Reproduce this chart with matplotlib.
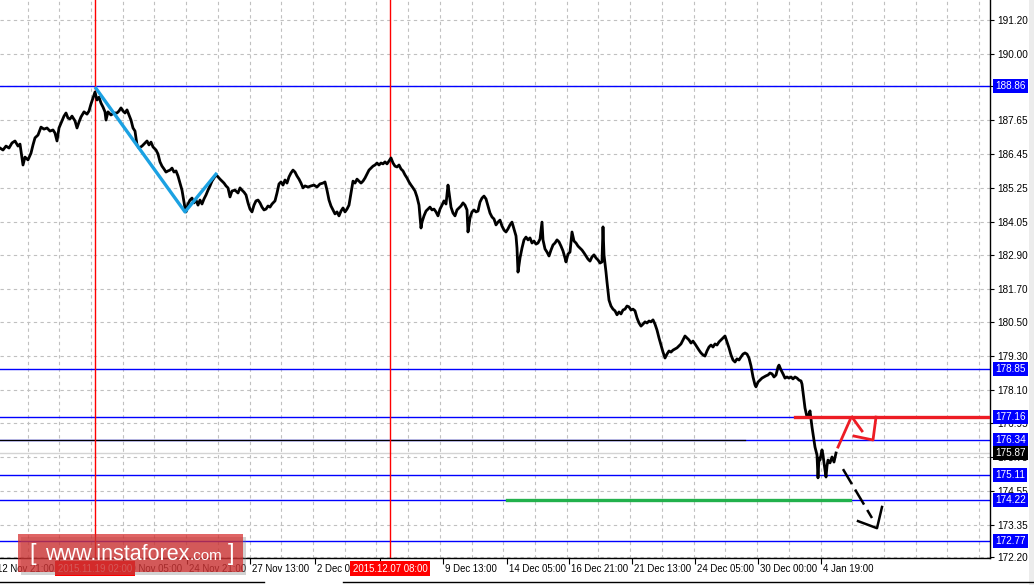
import matplotlib

matplotlib.use("Agg")

import matplotlib.pyplot as plt  # noqa: E402
import matplotlib.transforms as mtransforms  # noqa: E402
from matplotlib.lines import Line2D  # noqa: E402
from matplotlib.patches import Rectangle  # noqa: E402

plt.rcParams["font.family"] = ["Liberation Sans", "DejaVu Sans"]

# ---- data (H1 bars, index = bar number) ----
bars = [
    0, 3, 6, 9, 12, 15, 18, 20, 22, 23, 25, 28, 31, 33, 35, 38, 41, 44, 47, 50,
    53, 55, 57, 59, 62, 64, 66, 68, 70, 72, 75, 77, 79, 81, 84, 87, 89, 91, 93, 95,
    97, 99, 101, 103, 105, 106, 108, 111, 114, 117, 119, 121, 123, 125, 127, 129, 131, 133, 135, 137,
    139, 142, 145, 147, 149, 151, 153, 156, 158, 160, 162, 164, 166, 168, 170, 172, 174, 176, 178, 180,
    182, 183, 185, 186, 188, 190, 192, 194, 196, 198, 200, 202, 204, 206, 208, 210, 212, 214, 216, 218,
    220, 222, 224, 226, 228, 230, 232, 235, 238, 240, 242, 244, 246, 248, 250, 252, 254, 256, 258, 260,
    262, 264, 266, 268, 270, 272, 275, 277, 279, 281, 283, 285, 287, 289, 291, 293, 295, 297, 299, 301,
    303, 305, 308, 311, 314, 317, 320, 323, 325, 327, 329, 331, 333, 335, 337, 339, 341, 343, 345, 347,
    349, 351, 353, 355, 357, 359, 361, 363, 365, 367, 369, 371, 373, 375, 377, 379, 381, 383, 385, 387,
    389, 391, 393, 395, 397, 399, 401, 403, 405, 407, 409, 411, 413, 415, 417, 419, 421, 422, 424, 426,
    428, 430, 432, 434, 436, 438, 440, 442, 444, 446, 448, 449, 451, 453, 455, 457, 459, 461, 463, 465,
    467, 468, 470, 472, 474, 476, 478, 480, 482, 484, 486, 488, 490, 492, 494, 496, 498, 500, 502, 504,
    506, 508, 510, 512, 514, 516, 517, 518, 520, 522, 524, 526, 528, 530, 532, 534, 536, 538, 540, 542,
    543, 545, 547, 549, 551, 553, 555, 557, 559, 561, 563, 565, 566, 568, 570, 572, 574, 576, 578, 580,
    582, 584, 586, 588, 590, 592, 594, 596, 598, 600, 602, 603, 604, 606, 607, 609, 611, 613, 615, 617,
    619, 621, 623, 625, 627, 629, 631, 633, 635, 637, 639, 641, 643, 645, 647, 649, 651, 653, 655, 657,
    659, 661, 663, 665, 667, 669, 671, 673, 675, 677, 679, 681, 683, 685, 687, 689, 691, 693, 695, 697,
    699, 701, 703, 705, 707, 709, 711, 713, 715, 717, 719, 721, 723, 725, 727, 729, 731, 733, 735, 737,
    739, 741, 743, 745, 747, 749, 751, 753, 755, 756, 758, 760, 762, 764, 766, 768, 770, 772, 774, 776,
    778, 779, 781, 783, 785, 787, 789, 791, 793, 795, 797, 799, 801, 802, 804, 805, 807, 809, 810, 812,
    814, 815, 817, 818, 819, 820, 822, 823, 824, 826, 827, 828, 830, 832, 834, 836,
]
closes = [
    186.67, 186.60, 186.74, 186.67, 186.85, 186.92, 186.74, 186.81, 186.32, 186.07,
    186.35, 186.25, 186.49, 186.78, 187.03, 187.13, 187.41, 187.34, 187.38, 187.27,
    187.31, 187.20, 186.92, 187.38, 187.63, 187.80, 187.91, 187.73, 187.70, 187.80,
    187.63, 187.38, 187.59, 187.77, 187.95, 187.87, 187.98, 188.23, 188.44, 188.65,
    188.37, 188.47, 188.26, 188.12, 187.95, 187.66, 187.95, 187.84, 187.91, 187.91,
    187.98, 188.09, 187.98, 187.91, 188.02, 187.84, 187.66, 187.38, 187.27, 186.78,
    186.67, 186.74, 186.85, 186.92, 186.78, 186.88, 186.71, 186.60, 186.46, 186.18,
    186.03, 185.93, 185.82, 185.86, 185.89, 185.96, 185.82, 185.86, 185.68, 185.43,
    185.18, 184.97, 184.55, 184.41, 184.69, 184.83, 184.90, 184.73, 184.83, 184.65,
    184.83, 184.69, 184.87, 185.01, 185.18, 185.33, 185.50, 185.61, 185.72, 185.65,
    185.57, 185.50, 185.43, 185.33, 185.26, 184.94, 185.15, 185.18, 185.08, 185.26,
    185.18, 185.11, 185.01, 184.73, 184.51, 184.41, 184.65, 184.80, 184.83, 184.73,
    184.58, 184.48, 184.51, 184.62, 184.58, 184.69, 184.80, 185.08, 185.40, 185.47,
    185.36, 185.54, 185.43, 185.65, 185.79, 185.89, 185.82, 185.68, 185.57, 185.43,
    185.26, 185.33, 185.29, 185.33, 185.36, 185.29, 185.40, 185.43, 185.47, 185.18,
    184.83, 184.62, 184.48, 184.34, 184.41, 184.27, 184.44, 184.55, 184.41, 184.51,
    184.65, 185.08, 185.50, 185.43, 185.57, 185.50, 185.43, 185.50, 185.61, 185.75,
    185.89, 185.96, 186.03, 186.07, 186.14, 186.07, 186.14, 186.11, 186.18, 186.11,
    186.21, 186.32, 186.14, 186.03, 186.00, 186.07, 185.93, 185.86, 185.72, 185.61,
    185.47, 185.36, 185.26, 185.15, 184.94, 184.65, 183.84, 184.05, 184.27, 184.44,
    184.51, 184.58, 184.48, 184.51, 184.41, 184.27, 184.51, 184.65, 184.80, 184.69,
    185.36, 185.11, 184.58, 184.37, 184.27, 184.48, 184.55, 184.62, 184.73, 184.65,
    184.48, 183.70, 184.20, 184.41, 184.48, 184.41, 184.44, 184.76, 184.90, 184.97,
    184.87, 184.62, 184.37, 184.23, 184.16, 183.95, 184.05, 184.12, 183.91, 183.77,
    183.70, 183.81, 183.95, 184.05, 183.81, 183.56, 183.13, 182.28, 182.78, 183.13,
    183.42, 183.52, 183.42, 183.49, 183.31, 183.38, 183.27, 183.31, 183.45, 184.05,
    183.42, 183.10, 182.99, 182.85, 183.06, 183.24, 183.31, 183.42, 183.35, 183.20,
    183.03, 182.78, 182.64, 182.92, 182.99, 183.70, 183.38, 183.31, 183.20, 183.13,
    183.06, 182.96, 182.85, 182.74, 182.67, 182.82, 182.89, 182.78, 182.71, 182.60,
    182.64, 183.88, 182.89, 182.28, 181.93, 181.29, 181.08, 180.97, 180.91, 180.77,
    180.87, 180.80, 180.94, 180.97, 181.08, 181.05, 180.94, 180.97, 180.91, 180.66,
    180.48, 180.37, 180.44, 180.52, 180.48, 180.55, 180.52, 180.59, 180.44, 180.23,
    179.95, 179.70, 179.45, 179.24, 179.38, 179.49, 179.45, 179.52, 179.56, 179.60,
    179.67, 179.74, 179.88, 180.02, 179.95, 179.88, 179.77, 179.84, 179.74, 179.63,
    179.52, 179.42, 179.35, 179.31, 179.49, 179.63, 179.70, 179.63, 179.74, 179.70,
    179.81, 179.88, 179.95, 180.02, 179.81, 179.60, 179.35, 179.17, 179.10, 179.21,
    179.17, 179.28, 179.38, 179.42, 179.38, 179.24, 178.96, 178.57, 178.29, 178.22,
    178.39, 178.46, 178.53, 178.57, 178.61, 178.64, 178.71, 178.68, 178.57, 178.64,
    178.92, 178.99, 178.82, 178.68, 178.53, 178.57, 178.53, 178.57, 178.50, 178.57,
    178.53, 178.46, 178.43, 178.32, 177.76, 177.47, 177.15, 177.26, 177.37, 176.80,
    176.34, 176.09, 175.81, 175.00, 175.70, 175.63, 175.99, 175.81, 175.53, 175.03,
    175.42, 175.63, 175.53, 175.74, 175.56, 175.88,
]

price_ticks = [191.20, 190.00, 188.85, 187.65, 186.45, 185.25, 184.05, 182.90, 181.70,
               180.50, 179.30, 178.10, 176.95, 175.75, 174.55, 173.35, 172.20]
time_label_bars = [-5, 59, 123, 187, 250, 315, 380, 443, 507, 569, 632, 695, 758, 821]
# labels at 59 and 380 sit fully under the red marker boxes, so they stay blank
time_labels = ["12 Nov 21:00", "", "19 Nov 05:00", "24 Nov 21:00", "27 Nov 13:00",
               "2 Dec 05:00", "", "9 Dec 13:00", "14 Dec 05:00", "16 Dec 21:00",
               "21 Dec 13:00", "24 Dec 05:00", "30 Dec 00:00", "4 Jan 19:00"]

levels = [188.86, 178.85, 177.16, 176.34, 175.11, 174.22, 172.77]
last_price = 175.87
marker_bars = [95, 390]
marker_labels = ["2015.11.19 02:00", "2015.12.07 08:00"]

# hand-drawn analysis marks
wave_bars, wave_prices = [95, 185, 217], [188.83, 184.41, 185.79]
resist_price, resist_start = 177.16, 795
target_price, target_span = 174.22, (507, 850)
red_up_bars, red_up_prices = [838, 850], [176.09, 177.05]
red_head1_bars, red_head1_prices = [852, 862], [177.15, 176.66]
red_head2_bars, red_head2_prices = [854, 873, 876], [176.48, 176.34, 177.15]
black_down_bars, black_down_prices = [843, 872], [175.31, 173.58]
black_head_bars, black_head_prices = [858, 877, 882], [173.47, 173.22, 173.97]

# ---- layout (pixels) ----
W, H = 1034, 585
PLOT_W, PLOT_H = 990, 558
Y_TOP, Y_BOT = 191.908, 172.165
FS = 6.9

fig = plt.figure(figsize=(W / 100, H / 100), dpi=100)
fig.patch.set_facecolor("white")
ax = fig.add_axes([0, (H - PLOT_H) / H, PLOT_W / W, PLOT_H / H])
ax.set_xlim(0, PLOT_W)
ax.set_ylim(Y_BOT, Y_TOP)
for side in ("top", "left"):
    ax.spines[side].set_visible(False)
for side in ("right", "bottom"):
    ax.spines[side].set_linewidth(1.0)

grid_style = dict(color="#c0c0c0", lw=0.8, ls=(0, (3, 3)), zorder=0.5)
k = 0
while 27.5 + 31.72 * k < PLOT_W:
    ax.axvline(27.5 + 31.72 * k, **grid_style)
    k += 1
for p in price_ticks:
    ax.axhline(p, **grid_style)

ax.yaxis.tick_right()
ax.set_yticks(price_ticks, [f"{p:.2f}" for p in price_ticks])
ax.tick_params(axis="y", direction="out", length=3, pad=2, labelsize=7.2)
ax.set_xticks([b for b in time_label_bars if b >= 0], [])
ax.tick_params(axis="x", direction="out", length=4)

xdata_yaxes = mtransforms.blended_transform_factory(ax.transData, ax.transAxes)
xaxes_ydata = mtransforms.blended_transform_factory(ax.transAxes, ax.transData)

for b, lab in zip(time_label_bars, time_labels):
    if lab:
        ax.text(b + 2, -0.01, lab, transform=xdata_yaxes, ha="left", va="top",
                fontsize=FS, clip_on=False)

# level lines
for lvl in levels:
    ax.axhline(lvl, color="#0000ff", lw=1.0, zorder=1)
ax.plot([0, 745], [176.34, 176.34], color="black", lw=0.9, zorder=1.1)
ax.axhline(last_price, color="#d4d4d4", lw=1.0, zorder=1)
for b in marker_bars:
    ax.axvline(b, color="#ff0000", lw=1.0, zorder=1.2)

# price series
ax.plot(bars, closes, color="black", lw=2.0, zorder=3)

# analysis drawings
ax.plot(wave_bars, wave_prices, color="#1ba1e2", lw=2.4, zorder=4, solid_capstyle="butt")
ax.plot([resist_start, PLOT_W], [resist_price] * 2, color="#ed1c24", lw=2.4, zorder=4)
ax.plot(target_span, [target_price] * 2, color="#22b14c", lw=2.4, zorder=4)
for xs, ys in ((red_up_bars, red_up_prices), (red_head1_bars, red_head1_prices),
               (red_head2_bars, red_head2_prices)):
    ax.plot(xs, ys, color="#ed1c24", lw=2.0, zorder=4)
ax.plot(black_down_bars, black_down_prices, color="black", lw=1.8, ls=(0, (7, 2.5)), zorder=4)
ax.plot(black_head_bars, black_head_prices, color="black", lw=1.8, zorder=4)

# right-axis level boxes
for lvl in levels:
    ax.text(995 / PLOT_W, lvl, f"{lvl:.2f}", transform=xaxes_ydata, ha="left", va="center",
            fontsize=7.2, color="white", clip_on=False, zorder=6,
            bbox=dict(boxstyle="square,pad=0.2", fc="#0000ff", ec="none"))
ax.text(995 / PLOT_W, last_price, f"{last_price:.2f}", transform=xaxes_ydata, ha="left",
        va="center", fontsize=7.2, color="white", clip_on=False, zorder=6,
        bbox=dict(boxstyle="square,pad=0.2", fc="black", ec="none"))

# red time markers on the time axis
for b, lab in zip(marker_bars, marker_labels):
    ax.text(b, -0.01, lab, transform=xdata_yaxes, ha="center", va="top", fontsize=FS,
            color="white", clip_on=False, zorder=6,
            bbox=dict(boxstyle="square,pad=0.3", fc="#ff0000", ec="none"))

# bottom tab bar lines and right strip
for x0, x1 in ((0, 264), (343, W)):
    fig.add_artist(Line2D([x0 / W, x1 / W], [(H - 582) / H] * 2, color="black", lw=1.0))
fig.add_artist(Rectangle((1029 / W, 0), 5 / W, 1, transform=fig.transFigure,
                         fc="#ececec", ec="none"))

# watermark
fig.add_artist(Rectangle((21 / W, (H - 575) / H), 225 / W, 38 / H, transform=fig.transFigure,
                         fc="#808080", alpha=0.35, ec="none", zorder=5))
fig.add_artist(Rectangle((18 / W, (H - 572) / H), 225 / W, 38 / H, transform=fig.transFigure,
                         fc="#d42a2a", alpha=0.72, ec="none", zorder=6))
wy = (H - 554) / H
fig.text(29 / W, wy, "[", fontsize=17, color="white", va="center", ha="left", zorder=7)
fig.text(45 / W, wy, "www.instaforex", fontsize=15.5, color="white", va="center", ha="left",
         zorder=7)
fig.text(190 / W, wy - 0.004, ".com", fontsize=11, color="white", va="center", ha="left",
         zorder=7)
fig.text(228 / W, wy, "]", fontsize=17, color="white", va="center", ha="left", zorder=7)

fig.savefig("out.png", dpi=100)
plt.close(fig)
